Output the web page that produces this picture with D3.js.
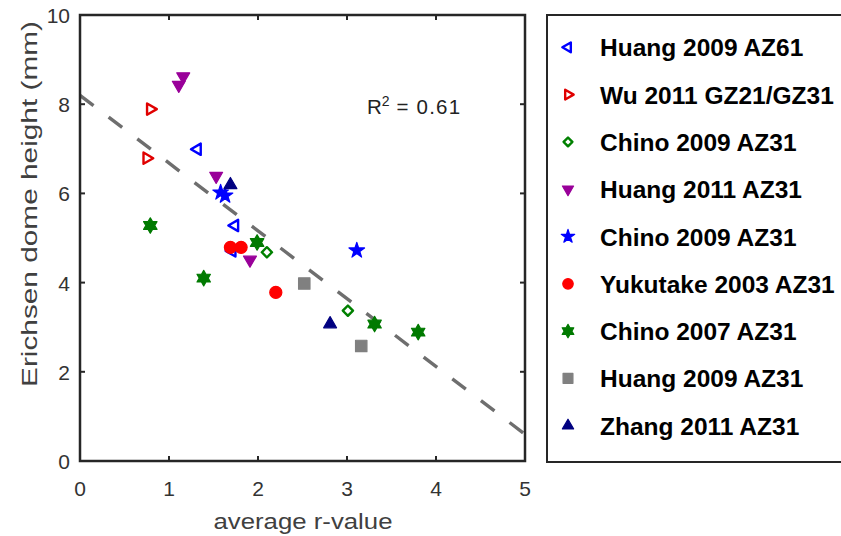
<!DOCTYPE html>
<html><head><meta charset="utf-8">
<script src="https://cdn.jsdelivr.net/npm/d3@7"></script>
<style>body{margin:0;background:#fff}svg{display:block}text{font-family:Arial,"Liberation Sans",sans-serif}</style>
</head><body><svg id="c" width="841" height="536"></svg>
<script>
const seriesNames = ["Huang 2009 AZ61","Wu 2011 GZ21/GZ31","Chino 2009 AZ31","Huang 2011 AZ31","Chino 2009 AZ31","Yukutake 2003 AZ31","Chino 2007 AZ31","Huang 2009 AZ31","Zhang 2011 AZ31"];
const seriesColors = ["#0000ff","#e00000","#008000","#990099","#0000ff","#ff0000","#007a00","#808080","#000080"];
const huangAZ61 = [[1.32,6.99],[1.74,5.28],[1.71,4.71]];
const wu2011 = [[0.79,7.89],[0.75,6.79]];
const chino2009a = [[2.10,4.68],[3.01,3.37]];
const huang2011 = [[1.16,8.62],[1.11,8.43],[1.53,6.39],[1.91,4.51]];
const chino2009b = [[1.58,6.02],[1.63,5.95],[3.11,4.72]];
const yukutake2003 = [[1.69,4.79],[1.81,4.79],[2.20,3.78]];
const chino2007 = [[0.79,5.28],[1.99,4.90],[1.39,4.10],[3.31,3.07],[3.80,2.89]];
const huang2009AZ31 = [[2.52,3.98],[3.16,2.58]];
const zhang2011 = [[1.69,6.19],[2.81,3.07]];
const xTicks = [0,1,2,3,4,5];
const yTicks = [0,2,4,6,8,10];
const fitIntercept = 8.2, fitSlope = -1.52;
const r2Label = "0.61";

const allSeries = [huangAZ61,wu2011,chino2009a,huang2011,chino2009b,yukutake2003,chino2007,huang2009AZ31,zhang2011];
const svg = d3.select("#c");
const x = d3.scaleLinear().domain([0,5]).range([80,525]);
const y = d3.scaleLinear().domain([0,10]).range([461,15]);

const hexagram = {draw(ctx,size){const R=Math.sqrt(size)/2, r=R/Math.sqrt(3);
  for(let i=0;i<12;i++){const a=-Math.PI/2+i*Math.PI/6, rr=i%2?r:R; const px=rr*Math.cos(a), py=rr*Math.sin(a); i?ctx.lineTo(px,py):ctx.moveTo(px,py);} ctx.closePath();}};
function shape(i, s){
  const defs = [
    [d3.symbolTriangle, 55*s, -90, false],
    [d3.symbolTriangle, 55*s, 90, false],
    [d3.symbolSquare, 52*s, 45, false],
    [d3.symbolTriangle, 72*s, 180, true],
    [d3.symbolStar, 75*s, 0, true],
    [d3.symbolCircle, 115*s, 0, true],
    [hexagram, 240*s, 0, true],
    [d3.symbolSquare, 130*s, 0, true],
    [d3.symbolTriangle, 72*s, 0, true]
  ];
  return defs[i];
}
function drawMarker(g, i, cx, cy, scale){
  const [t,sz,rot,fill] = shape(i, scale);
  g.append("path").attr("d", d3.symbol().type(t).size(sz)())
   .attr("transform",`translate(${cx},${cy}) rotate(${rot})`)
   .attr("fill", fill ? seriesColors[i] : "none")
   .attr("stroke", seriesColors[i]).attr("stroke-width", fill?1.2:2.4)
   .attr("stroke-linejoin","round");
}

svg.append("line").attr("x1",x(0)).attr("y1",y(fitIntercept)).attr("x2",x(5)).attr("y2",y(fitIntercept+5*fitSlope))
  .attr("stroke","#6e6e6e").attr("stroke-width",3.4).attr("stroke-dasharray","17,19");

const pg = svg.append("g");
allSeries.forEach((pts,i)=>pts.forEach(p=>drawMarker(pg,i,x(p[0]),y(p[1]),1)));

svg.append("rect").attr("x",80).attr("y",15).attr("width",445).attr("height",446)
  .attr("fill","none").attr("stroke","#262626").attr("stroke-width",2.5);
const tk = svg.append("g").attr("stroke","#262626").attr("stroke-width",2);
xTicks.slice(1,-1).forEach(v=>{tk.append("line").attr("x1",x(v)).attr("x2",x(v)).attr("y1",461).attr("y2",456);
  tk.append("line").attr("x1",x(v)).attr("x2",x(v)).attr("y1",15).attr("y2",20);});
yTicks.slice(1,-1).forEach(v=>{tk.append("line").attr("y1",y(v)).attr("y2",y(v)).attr("x1",80).attr("x2",85);
  tk.append("line").attr("y1",y(v)).attr("y2",y(v)).attr("x1",525).attr("x2",520);});
svg.append("g").selectAll("text").data(xTicks).join("text").attr("x",d=>x(d)).attr("y",496)
  .attr("text-anchor","middle").attr("font-size",21).attr("fill","#333").text(d=>d);
svg.append("g").selectAll("text").data(yTicks).join("text").attr("x",70).attr("y",d=>y(d)+8)
  .attr("text-anchor","end").attr("font-size",21).attr("fill","#333").text(d=>d);
svg.append("text").attr("x",303).attr("y",529).attr("text-anchor","middle").attr("font-size",22)
  .attr("fill","#404040").attr("textLength",179).attr("lengthAdjust","spacingAndGlyphs").text("average r-value");
svg.append("text").attr("transform","translate(37,204) rotate(-90)").attr("text-anchor","middle").attr("font-size",22)
  .attr("fill","#404040").attr("textLength",366).attr("lengthAdjust","spacingAndGlyphs").text("Erichsen dome height (mm)");
const rt = svg.append("text").attr("x",367).attr("y",114).attr("font-size",20.5).attr("fill","#222");
rt.append("tspan").text("R");
rt.append("tspan").attr("dy",-8).attr("font-size",14).text("2");
rt.append("tspan").attr("dy",8).attr("letter-spacing",1.2).text(" = "+r2Label);

svg.append("rect").attr("x",547).attr("y",15).attr("width",310).attr("height",447)
  .attr("fill","none").attr("stroke","#262626").attr("stroke-width",2);
const lg = svg.append("g");
seriesNames.forEach((n,i)=>{
  const ly = 47.3 + i*47.3;
  drawMarker(lg,i,568,ly,0.75);
  lg.append("text").attr("x",600).attr("y",ly+9).attr("font-size",24.5).attr("font-weight","bold")
    .attr("fill","#000").text(n);
});
</script></body></html>
